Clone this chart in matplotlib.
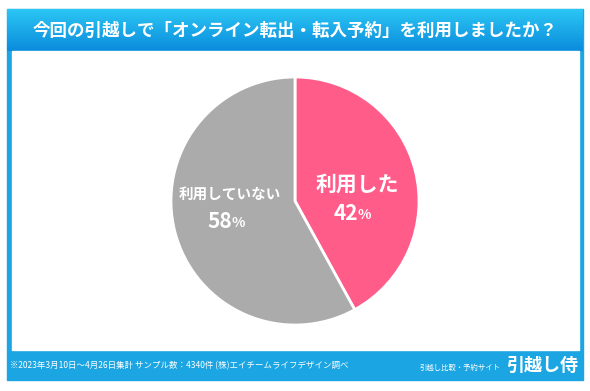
import matplotlib
matplotlib.use("Agg")
import matplotlib.pyplot as plt
from matplotlib.patches import Rectangle
from matplotlib.colors import LinearSegmentedColormap
import numpy as np

plt.rcParams['font.family'] = ['Noto Sans CJK JP', 'DejaVu Sans']

title = "今回の引越しで「オンライン転出・転入予約」を利用しましたか？"
labels = ["利用した", "利用していない"]
values = [42, 58]
colors = ["#FF5C8A", "#ABABAB"]
note = "※2023年3月10日～4月26日集計 サンプル数：4340件 (株)エイチームライフデザイン調べ"
site_sub = "引越し比較・予約サイト"
site_name = "引越し侍"

W, H = 590, 391
fig = plt.figure(figsize=(W / 100, H / 100), dpi=100)

# frame, drawn in pixel coordinates
bg = fig.add_axes([0, 0, 1, 1])
bg.axis("off")
bg.set_zorder(0)

bg.add_patch(Rectangle((7, 9), 576, 371, color="#1BA5E2", zorder=1))
grad = np.linspace(0, 1, 100).reshape(-1, 1)
cmap = LinearSegmentedColormap.from_list("tb", ["#2CC6F4", "#0A8CDC"])
bg.imshow(grad, cmap=cmap, extent=(7, 583, 51, 9), aspect="auto", zorder=2)
bg.add_patch(Rectangle((12, 51), 567, 299, color="white", zorder=3))
bg.set_xlim(0, W)
bg.set_ylim(H, 0)

bg.text(295, 31, title, color="white", fontsize=12.6, fontweight="bold",
        ha="center", va="center", zorder=4)
bg.text(10, 366, note, color="white", fontsize=6.1, ha="left", va="center", zorder=4)
bg.text(500, 368, site_sub, color="white", fontsize=5.3, ha="right", va="center", zorder=4)
bg.text(578, 365, site_name, color="white", fontsize=13, fontweight="bold",
        ha="right", va="center", zorder=4)

# pie
cx, cy, r = 295, 201, 124
ax = fig.add_axes([(cx - r) / W, (H - cy - r) / H, 2 * r / W, 2 * r / H])
ax.set_zorder(1)
ax.pie(values, colors=colors, startangle=90, counterclock=False,
       wedgeprops=dict(edgecolor="white", linewidth=2))
ax.set_xlim(-1, 1)
ax.set_ylim(-1, 1)
ax.set_aspect("equal")

# labels on top of the pie
ov = fig.add_axes([0, 0, 1, 1])
ov.set_xlim(0, W)
ov.set_ylim(H, 0)
ov.axis("off")
ov.set_zorder(2)

ov.text(357, 184, labels[0], color="white", fontsize=15, fontweight="bold",
        ha="center", va="center")
ov.text(358, 213, f"{values[0]}", color="white", fontsize=15, fontweight="bold",
        ha="right", va="center")
ov.text(358, 215, "%", color="white", fontsize=10, fontweight="bold",
        ha="left", va="center")
ov.text(230, 194, labels[1], color="white", fontsize=10.5, fontweight="bold",
        ha="center", va="center")
ov.text(232, 221, f"{values[1]}", color="white", fontsize=15, fontweight="bold",
        ha="right", va="center")
ov.text(232, 223, "%", color="white", fontsize=10, fontweight="bold",
        ha="left", va="center")

fig.savefig("out.png", dpi=100)
